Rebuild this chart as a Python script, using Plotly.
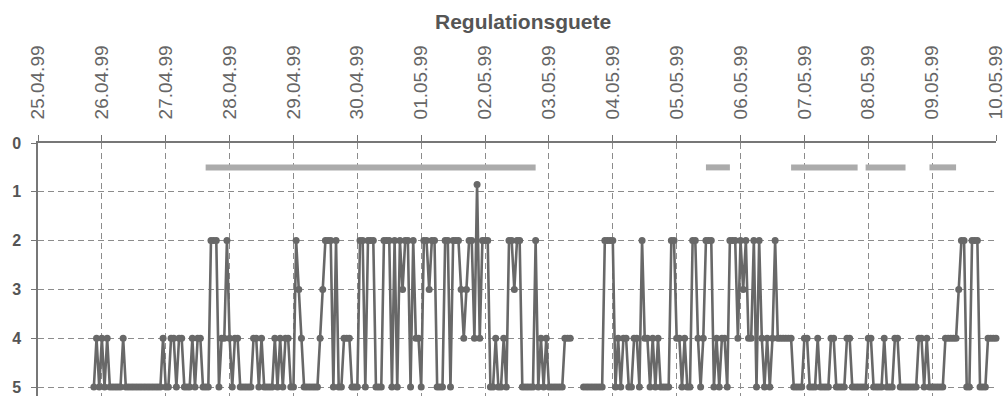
import pandas as pd
import plotly.graph_objects as go

title_text = "Regulationsguete"
start_time = "1999-04-25 00:00"
day_ticks = ["1999-04-25", "1999-04-26", "1999-04-27", "1999-04-28", "1999-04-29",
             "1999-04-30", "1999-05-01", "1999-05-02", "1999-05-03", "1999-05-04",
             "1999-05-05", "1999-05-06", "1999-05-07", "1999-05-08", "1999-05-09",
             "1999-05-10"]
y_ticks = [0, 1, 2, 3, 4, 5]

# hourly quality values, one row per day (25.04.99 ... 09.05.99) + 10.05.99 00:00
quality = [
    None, None, None, None, None, None, None, None, None, None, None, None,
    None, None, None, None, None, None, None, None, None, 5, 4, 5,            # 25.04
    4, 5, 4, 5, 5, 5, 5, 5, 4, 5, 5, 5, 5, 5, 5, 5, 5, 5, 5, 5, 5, 5, 5, 4,  # 26.04
    5, 5, 4, 4, 5, 4, 4, 5, 5, 5, 4, 5, 4, 4, 5, 5, 5, 2, 2, 2, 5, 4, 4, 2,  # 27.04
    4, 5, 4, 4, 5, 5, 5, 5, 5, 4, 4, 5, 4, 5, 5, 5, 5, 4, 5, 4, 5, 4, 4, 5,  # 28.04
    5, 2, 3, 4, 5, 5, 5, 5, 5, 5, 4, 3, 2, 2, 2, 5, 2, 5, 5, 4, 4, 4, 5, 5,  # 29.04
    5, 2, 2, 5, 2, 2, 2, 5, 5, 5, 2, 2, 2, 5, 2, 5, 2, 3, 2, 2, 5, 2, 4, 4,  # 30.04
    5, 2, 2, 3, 2, 2, 5, 5, 5, 2, 2, 5, 2, 2, 2, 3, 4, 3, 2, 2, 4, 0.85, 4, 2,  # 01.05
    2, 2, 5, 5, 4, 5, 5, 4, 5, 2, 2, 3, 2, 2, 5, 5, 5, 5, 5, 2, 5, 4, 5, 4,  # 02.05
    5, 5, 5, 5, 5, 5, 4, 4, 4, None, None, None, None, 5, 5, 5, 5, 5, 5, 5, 5, 2, 2, 2,  # 03.05
    2, 5, 4, 5, 4, 4, 5, 5, 4, 4, 5, 2, 4, 4, 5, 4, 5, 4, 5, 5, 5, 5, 2, 2,  # 04.05
    4, 4, 5, 4, 5, 5, 2, 2, 4, 5, 4, 2, 2, 2, 5, 4, 5, 4, 4, 5, 2, 2, 2, 4,  # 05.05
    2, 3, 2, 4, 4, 2, 5, 2, 4, 5, 4, 5, 4, 2, 4, 4, 4, 4, 4, 4, 5, 5, 5, 5,  # 06.05
    4, 4, 5, 5, 5, 4, 5, 5, 5, 5, 4, 4, 5, 5, 5, 5, 4, 4, 5, 5, 5, 5, 5, 5,  # 07.05
    4, 4, 5, 5, 5, 5, 4, 5, 5, 5, 4, 4, 5, 5, 5, 5, 5, 5, 5, 4, 4, 5, 4, 5,  # 08.05
    5, 5, 5, 5, 5, 4, 4, 4, 4, 4, 3, 2, 2, 5, 5, 2, 2, 2, 5, 5, 5, 4, 4, 4,  # 09.05
    4,                                                                        # 10.05 00:00
]

# periods flagged by the grey band at level 0.5
band_start = ["1999-04-27 15:00", "1999-05-05 11:00", "1999-05-06 19:00",
              "1999-05-07 23:00", "1999-05-08 23:00"]
band_end = ["1999-05-02 19:00", "1999-05-05 20:00", "1999-05-07 20:00",
            "1999-05-08 14:00", "1999-05-09 09:00"]
band_level = 0.5

times = pd.date_range(start_time, periods=len(quality), freq="h")

fig = go.Figure()

for s, e in zip(band_start, band_end):
    fig.add_trace(go.Scatter(
        x=[s, e], y=[band_level, band_level], mode="lines",
        line=dict(color="#ababab", width=6), hoverinfo="skip", showlegend=False))

fig.add_trace(go.Scatter(
    x=times, y=quality, mode="lines+markers",
    line=dict(color="#686868", width=2.6),
    marker=dict(symbol="circle", size=7, color="#686868"),
    connectgaps=False, cliponaxis=False, showlegend=False))

grid_col = "#8c8c8c"
fig.update_layout(
    width=1004, height=396,
    margin=dict(l=38, r=8, t=143, b=0),
    paper_bgcolor="white", plot_bgcolor="white",
    font=dict(family="Liberation Sans, Arial, sans-serif", color="#606060"),
    title=dict(text="<b>" + title_text + "</b>", x=0.521, xref="container",
               y=1 - 22 / 396, yref="container", xanchor="center", yanchor="middle",
               font=dict(size=21, color="#555555")),
    xaxis=dict(
        side="top", type="date", automargin=False,
        range=[day_ticks[0], day_ticks[-1]],
        tickvals=day_ticks, tickformat="%d.%m.%y", tickangle=-90,
        tickfont=dict(size=19, color="#666666"),
        ticks="outside", ticklen=6, tickcolor="#777777", tickwidth=1.2,
        ticklabelstandoff=12, ticklabeloverflow="allow",
        showline=True, linecolor="#777777", linewidth=1.5, mirror=False,
        showgrid=True, gridcolor=grid_col, gridwidth=1.4, griddash="6px,4px",
        zeroline=False, fixedrange=True),
    yaxis=dict(
        automargin=False,
        range=[5 + 9 / 48.8, 0], tickvals=y_ticks,
        tickfont=dict(size=16, color="#555555", weight="bold"),
        ticks="outside", ticklen=5, tickcolor="#777777", tickwidth=1.2,
        ticklabelstandoff=7, ticklabeloverflow="allow",
        showline=True, linecolor="#777777", linewidth=1.5,
        showgrid=True, gridcolor=grid_col, gridwidth=1.4, griddash="6px,4px",
        zeroline=False, fixedrange=True),
)

fig.write_html("out.html", config={"displayModeBar": False},
               post_script="document.body.style.margin='0';")
